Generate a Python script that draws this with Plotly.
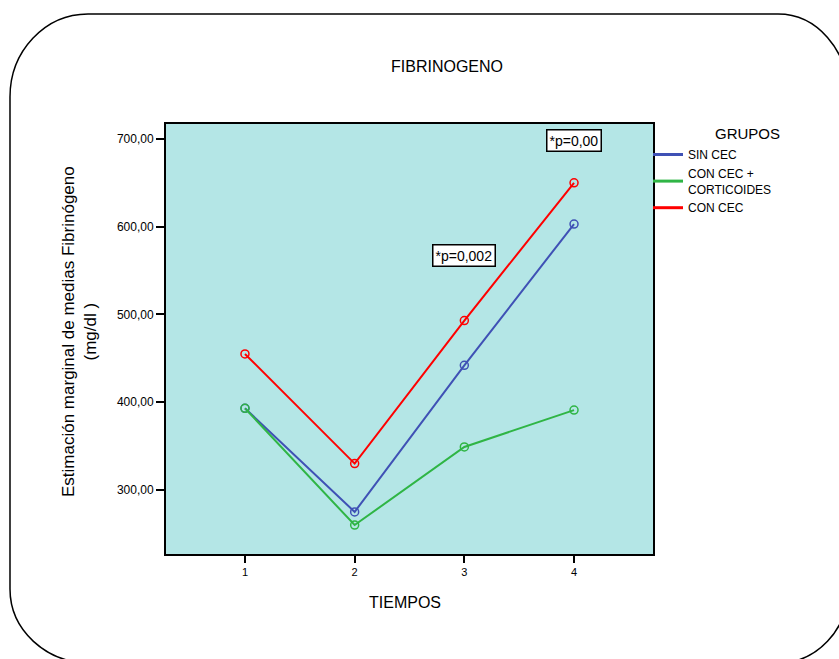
import plotly.graph_objects as go

tiempos = [1, 2, 3, 4]
sin_cec = [393, 275, 442, 603]
con_cec_cort = [393, 260, 349, 391]
con_cec = [455, 330, 493, 650]
y_ticks = [300, 400, 500, 600, 700]
y_ticklabels = ["300,00", "400,00", "500,00", "600,00", "700,00"]
x_ticklabels = ["1", "2", "3", "4"]
series_names = ["SIN CEC", "CON CEC +<br>CORTICOIDES", "CON CEC"]
series_values = [sin_cec, con_cec_cort, con_cec]
series_colors = ["#3f51b5", "#2fb545", "#ff0000"]

W, H = 839, 659
ML, MR, MT, MB = 166, 186, 124, 105
PW, PH = W - ML - MR, H - MT - MB

def px(x):
    return (x - ML) / PW

def py(y):
    return (H - MB - y) / PH

FONT = "Liberation Sans, Arial, sans-serif"

fig = go.Figure()
for name, vals, col in zip(series_names, series_values, series_colors):
    fig.add_trace(go.Scatter(x=tiempos, y=vals, name=name, mode="lines+markers",
                             showlegend=False, legendgroup=name,
                             line=dict(color=col, width=2),
                             marker=dict(symbol="circle-open", size=8, line=dict(width=1.5))))
for name, col in zip(series_names, series_colors):
    fig.add_trace(go.Scatter(x=[None], y=[None], name=name, mode="lines",
                             legendgroup=name, showlegend=True,
                             line=dict(color=col, width=3)))

# rounded outer frame
L, R, T, B = 10, 848, 14, 663
k = 0.5523
tl = (78, 83); tr = (70, 80); br = (70, 74); bl = (80, 74)
def P(x, y):
    return f"{px(x):.5f},{py(y):.5f}"
path = (
    f"M{P(L+tl[0], T)} L{P(R-tr[0], T)} "
    f"C{P(R-tr[0]+k*tr[0], T)} {P(R, T+tr[1]-k*tr[1])} {P(R, T+tr[1])} "
    f"L{P(R, B-br[1])} "
    f"C{P(R, B-br[1]+k*br[1])} {P(R-br[0]+k*br[0], B)} {P(R-br[0], B)} "
    f"L{P(L+bl[0], B)} "
    f"C{P(L+bl[0]-k*bl[0], B)} {P(L, B-bl[1]+k*bl[1])} {P(L, B-bl[1])} "
    f"L{P(L, T+tl[1])} "
    f"C{P(L, T+tl[1]-k*tl[1])} {P(L+tl[0]-k*tl[0], T)} {P(L+tl[0], T)} Z"
)
fig.add_shape(type="path", path=path, xref="paper", yref="paper",
              line=dict(color="black", width=1.5), layer="below")

annotations = [
    dict(text="FIBRINOGENO", x=px(447), y=py(66), xref="paper", yref="paper",
         xanchor="center", yanchor="middle",
         showarrow=False, font=dict(size=16, color="black", family=FONT)),
    dict(text="TIEMPOS", x=px(405), y=py(602), xref="paper", yref="paper",
         xanchor="center", yanchor="middle",
         showarrow=False, font=dict(size=16, color="black", family=FONT)),
    dict(text="GRUPOS", x=px(747), y=py(133), xref="paper", yref="paper",
         xanchor="center", yanchor="middle",
         showarrow=False, font=dict(size=15, color="black", family=FONT)),
    dict(text="Estimación marginal de medias Fibrinógeno<br>(mg/dl )", x=px(79), y=py(332),
         xref="paper", yref="paper", textangle=-90, showarrow=False,
         xanchor="center", yanchor="middle",
         font=dict(size=17, color="black", family=FONT)),
    dict(text="*p=0,00", x=4, y=698, xref="x", yref="y", showarrow=False,
         bgcolor="white", bordercolor="black", borderwidth=1.5, borderpad=2,
         font=dict(size=14, color="black", family=FONT)),
    dict(text="*p=0,002", x=3, y=567, xref="x", yref="y", showarrow=False,
         bgcolor="white", bordercolor="black", borderwidth=1.5, borderpad=2,
         font=dict(size=14, color="black", family=FONT)),
]

fig.update_layout(
    width=W, height=H,
    margin=dict(l=ML, r=MR, t=MT, b=MB, pad=0),
    paper_bgcolor="white",
    plot_bgcolor="#b4e6e6",
    annotations=annotations,
    showlegend=True,
    legend=dict(x=px(648), y=py(140), xanchor="left", yanchor="top",
                font=dict(size=12, color="black", family=FONT),
                bgcolor="rgba(0,0,0,0)", itemclick=False, itemdoubleclick=False,
                tracegroupgap=0),
    xaxis=dict(range=[0.28, 4.72], tickmode="array", tickvals=tiempos, ticktext=x_ticklabels,
               showgrid=False, zeroline=False, showline=True, linecolor="black", linewidth=2,
               mirror=True, ticks="outside", ticklen=7, tickwidth=1.5, tickcolor="black",
               tickfont=dict(size=11, color="black", family=FONT)),
    yaxis=dict(range=[227, 717], tickmode="array", tickvals=y_ticks, ticktext=y_ticklabels,
               showgrid=False, zeroline=False, showline=True, linecolor="black", linewidth=2,
               mirror=True, ticks="outside", ticklen=8, tickwidth=1.5, tickcolor="black",
               tickfont=dict(size=12, color="black", family=FONT)),
)

fig.write_html("out.html")
